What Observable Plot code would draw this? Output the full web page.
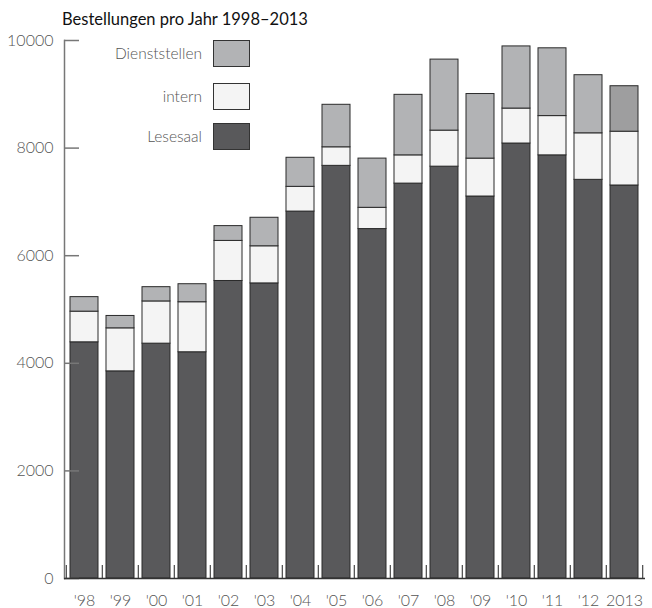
<!DOCTYPE html>
<html>
<head>
<meta charset="utf-8">
<script src="https://cdn.jsdelivr.net/npm/d3@7"></script>
<script src="https://cdn.jsdelivr.net/npm/@observablehq/plot@0.6"></script>
<style>
  body { margin: 0; background: #fff; font-family: Lato, "Open Sans", sans-serif; }
  #wrap { position: relative; width: 652px; height: 608px; overflow: hidden; }
  #title { height: 28px; box-sizing: border-box; padding-top: 10px; padding-left: 62px; font-size: 16.5px; line-height: 18px; color: #111; }
  .lg { position: absolute; left: 0; width: 250px; height: 27px; }
  .lg span { position: absolute; right: 48px; top: 0; line-height: 27px; font-size: 15.5px; color: #555; font-weight: 300; }
  .lg i { position: absolute; right: 0; top: 0; width: 37px; height: 27px; box-sizing: border-box; border: 1.5px solid #333; }
  svg text { font-weight: 300; }
</style>
</head>
<body>
<div id="wrap">
  <div id="title">Bestellungen pro Jahr 1998–2013</div>
  <div id="chart"></div>
  <div id="legend"></div>
</div>
<script>
const years = ["'98","'99","'00","'01","'02","'03","'04","'05","'06","'07","'08","'09","'10","'11","'12","2013"];
const lesesaal      = [4390, 3850, 4365, 4205, 5530, 5485, 6820, 7670, 6495, 7340, 7655, 7100, 8085, 7865, 7410, 7305];
const intern        = [ 570,  800,  785,  930,  745,  690,  460,  345,  395,  525,  670,  705,  650,  730,  865, 1000];
const dienststellen = [ 270,  230,  265,  335,  275,  530,  540,  790,  915, 1125, 1320, 1200, 1155, 1260, 1080,  845];
const seriesNames = ["Lesesaal", "intern", "Dienststellen"];
const seriesColors = ["#59595b", "#f4f4f4", "#b2b3b5"];
const lastDienstColor = "#9e9e9f";
const yTicks = [0, 2000, 4000, 6000, 8000, 10000];

const rows = [];
years.forEach((yr, i) => {
  [lesesaal[i], intern[i], dienststellen[i]].forEach((v, k) => {
    rows.push({year: yr, series: seriesNames[k], value: v,
      color: (k === 2 && i === years.length - 1) ? lastDienstColor : seriesColors[k]});
  });
});

const W = 652, H = 580, ML = 64, MR = 7;
const step = (W - ML - MR) / years.length;

const chart = Plot.plot({
  width: W, height: H,
  marginTop: 12, marginBottom: 30, marginLeft: ML, marginRight: MR,
  style: {fontFamily: "Lato, 'Open Sans', sans-serif", fontSize: "16px", color: "#555", background: "#fff"},
  x: {domain: years, paddingInner: 0.22, paddingOuter: 0.11, label: null},
  y: {domain: [0, 10000], label: null},
  marks: [
    Plot.barY(rows, Plot.stackY({x: "year", y: "value", fill: "color", stroke: "#2a2a2a", strokeWidth: 1})),
    Plot.axisY({ticks: yTicks, tickSize: 0, tickPadding: 11, tickFormat: d => String(d), fill: "#555", fontSize: 16}),
    Plot.axisY({ticks: yTicks, tickSize: 15, dx: 15, tickFormat: () => "", stroke: "#777", strokeWidth: 1.5}),
    Plot.axisX({tickSize: 0, tickPadding: 16, fill: "#555", fontSize: 16}),
    Plot.ruleX(years, {x: d => d, dx: -step / 2, y1: 0, y2: 240, stroke: "#555", strokeWidth: 1.3}),
    Plot.ruleX([years[years.length - 1]], {x: d => d, dx: step / 2, y1: 0, y2: 240, stroke: "#555", strokeWidth: 1.3}),
    Plot.frame({anchor: "left", stroke: "#777", strokeWidth: 1.5}),
    Plot.ruleY([0], {stroke: "#333", strokeWidth: 1.5})
  ]
});
document.getElementById("chart").appendChild(chart);

const legendItems = [
  {name: "Dienststellen", color: seriesColors[2], top: 40},
  {name: "intern", color: seriesColors[1], top: 83},
  {name: "Lesesaal", color: seriesColors[0], top: 123}
];
const lg = document.getElementById("legend");
legendItems.forEach(it => {
  const d = document.createElement("div");
  d.className = "lg";
  d.style.top = it.top + "px";
  d.innerHTML = `<span>${it.name}</span><i style="background:${it.color}"></i>`;
  lg.appendChild(d);
});
</script>
</body>
</html>
